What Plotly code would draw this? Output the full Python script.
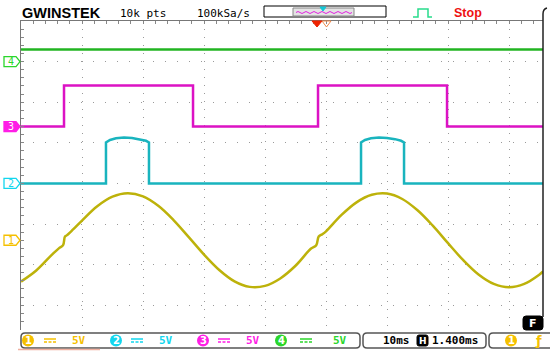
import plotly.graph_objects as go

# ---------------- data ----------------
time_range_ms = [-50.0, 35.57]      # 10 ms / div, centre of screen = 0
div_range = [-3.61, 4.0]            # vertical divisions visible
volts_per_div = 5.0
ch_offset_div = [-1.4, 0.0, 1.4, 3.0]   # CH1..CH4 ground markers

# CH1 (yellow, sine with small glitches at CH3 rising edges)
ch1_t = [-50, -47.5, -45, -43.8, -43.1, -42.8, -42.5, -41.5, -40, -37.5, -35, -32.5,
         -30, -27.5, -25, -22.5, -20, -17.5, -15, -12.5, -10, -7.5, -5, -2.5, -1.6,
         -1.2, -0.6, 0, 2.5, 5, 7.5, 10, 12.5, 15, 17.5, 20, 22.5, 25, 27.5, 30,
         32.5, 35, 35.57]
ch1_v = [-5.09, -3.72, -1.83, -1.0, -0.6, 0.45, 0.6, 1.3, 2.43, 4.19, 5.37, 5.79,
         5.40, 4.24, 2.49, 0.39, -1.76, -3.66, -5.06, -5.74, -5.62, -4.70, -3.14, -1.05,
         -0.6, 0.45, 0.75, 1.1, 3.09, 4.67, 5.60, 5.75, 5.08, 3.69, 1.80, -0.36,
         -2.46, -4.22, -5.38, -5.79, -5.38, -4.21, -3.85]

# CH2 (cyan pulses with slightly rounded tops)
ch2_t = [-50, -36.07, -36.07, -35.41, -34.43, -33.11, -31.8, -30.49, -29.51, -29.02, -29.02,
         5.74, 5.74, 6.39, 7.38, 8.69, 10.0, 11.31, 12.3, 12.79, 12.79, 35.57]
ch2_v = [0, 0, 5.05, 5.35, 5.55, 5.65, 5.6, 5.45, 5.25, 5.05, 0,
         0, 5.05, 5.35, 5.55, 5.65, 5.6, 5.45, 5.25, 5.05, 0, 0]

# CH3 (magenta square wave)
ch3_t = [-50, -42.95, -42.95, -21.8, -21.8, -1.31, -1.31, 19.84, 19.84, 35.57]
ch3_v = [0, 0, 5.05, 5.05, 0, 0, 5.05, 5.05, 0, 0]

# CH4 (green DC level)
ch4_t = [-50, 35.57]
ch4_v = [1.5, 1.5]

ch_labels = ["1", "2", "3", "4"]
ch_scales = ["5V", "5V", "5V", "5V"]
trace_colors = ["#bdb20a", "#19b4be", "#dc12c4", "#22b422"]
label_colors = ["#f5c000", "#12d6ee", "#ff1ee6", "#2bd62b"]
header_logo = "GWINSTEK"
header_pts = "10k pts"
header_rate = "100kSa/s"
header_state = "Stop"
timebase_text = "10ms"
hpos_text = "1.400ms"

# ---------------- geometry helpers ----------------
W, H = 550, 357
L, R, T, B = 21, 543, 21, 330


def X(p):
    return (p - L) / (R - L)


def Y(p):
    return (B - p) / (B - T)


def rrect(x0, y0, x1, y1, r):
    return (f"M {X(x0+r)},{Y(y0)} L {X(x1-r)},{Y(y0)} Q {X(x1)},{Y(y0)} {X(x1)},{Y(y0+r)} "
            f"L {X(x1)},{Y(y1-r)} Q {X(x1)},{Y(y1)} {X(x1-r)},{Y(y1)} "
            f"L {X(x0+r)},{Y(y1)} Q {X(x0)},{Y(y1)} {X(x0)},{Y(y1-r)} "
            f"L {X(x0)},{Y(y0+r)} Q {X(x0)},{Y(y0)} {X(x0+r)},{Y(y0)} Z")


fig = go.Figure()

series = [(ch1_t, ch1_v), (ch2_t, ch2_v), (ch3_t, ch3_v), (ch4_t, ch4_v)]
for i, (t, v) in enumerate(series):
    y = [ch_offset_div[i] + vi / volts_per_div for vi in v]
    fig.add_trace(go.Scatter(
        x=t, y=y, mode="lines", hoverinfo="skip", showlegend=False,
        line=dict(color=trace_colors[i], width=2.5,
                  shape="spline" if i == 0 else "linear", smoothing=1.0)))

shapes = []
ann = []

# channel ground markers on the left
for i in range(4):
    filled = (i == 2)
    shapes.append(dict(
        type="path", xref="paper", yref="y", ysizemode="pixel", yanchor=ch_offset_div[i],
        path=f"M {X(4)},-5 L {X(16)},-5 L {X(20)},0 L {X(16)},5 L {X(4)},5 Z",
        line=dict(color=label_colors[i], width=1.3),
        fillcolor=label_colors[i] if filled else "white", layer="above"))
    ann.append(dict(x=X(11), y=ch_offset_div[i], xref="paper", yref="y", text=ch_labels[i],
                    showarrow=False, xanchor="center", yanchor="middle",
                    font=dict(family="DejaVu Sans Mono", size=10,
                              color="white" if filled else label_colors[i])))

# header
ann.append(dict(x=X(20), y=Y(13), xref="paper", yref="paper", text=f"<b>{header_logo}</b>",
                showarrow=False, xanchor="left", yanchor="middle",
                font=dict(family="Liberation Sans", size=14.5, color="black")))
ann.append(dict(x=X(143), y=Y(13), xref="paper", yref="paper", text=header_pts,
                showarrow=False, xanchor="center", yanchor="middle",
                font=dict(family="DejaVu Sans Mono", size=11, color="black")))
ann.append(dict(x=X(223), y=Y(13), xref="paper", yref="paper", text=header_rate,
                showarrow=False, xanchor="center", yanchor="middle",
                font=dict(family="DejaVu Sans Mono", size=11, color="black")))
ann.append(dict(x=X(468), y=Y(13), xref="paper", yref="paper", text=f"<b>{header_state}</b>",
                showarrow=False, xanchor="center", yanchor="middle",
                font=dict(family="Liberation Sans", size=12.5, color="#ee1111")))

# memory window box
shapes.append(dict(type="rect", xref="paper", yref="paper", x0=X(264), x1=X(386), y0=Y(6), y1=Y(17),
                   line=dict(color="black", width=1), fillcolor="white"))
shapes.append(dict(type="rect", xref="paper", yref="paper", x0=X(293), x1=X(354), y0=Y(8), y1=Y(16),
                   line=dict(color="#888", width=1), fillcolor="#e4e4e4"))
wave = f"M {X(296)},{Y(12.5)}"
xw = 296
up = True
while xw < 351:
    wave += f" Q {X(xw+2)},{Y(10.5 if up else 14.5)} {X(xw+4)},{Y(12.5)}"
    xw += 4
    up = not up
shapes.append(dict(type="path", xref="paper", yref="paper", path=wave,
                   line=dict(color="#e020e0", width=1)))
shapes.append(dict(type="path", xref="paper", yref="paper",
                   path=f"M {X(320)},{Y(7)} L {X(326)},{Y(7)} L {X(323)},{Y(11)} Z",
                   line=dict(color="#10c8d8", width=1), fillcolor="#10c8d8"))
# trigger pulse icon
shapes.append(dict(type="path", xref="paper", yref="paper",
                   path=f"M {X(413)},{Y(17)} L {X(418)},{Y(17)} L {X(418)},{Y(9)} L {X(428)},{Y(9)} "
                        f"L {X(428)},{Y(17)} L {X(432)},{Y(17)}",
                   line=dict(color="#28dc8c", width=1.5)))
# trigger position markers
shapes.append(dict(type="path", xref="paper", yref="paper",
                   path=f"M {X(312)},{Y(21)} L {X(322)},{Y(21)} L {X(317)},{Y(27)} Z",
                   line=dict(color="#ee2200", width=1), fillcolor="#ee2200"))
shapes.append(dict(type="path", xref="paper", yref="paper",
                   path=f"M {X(322)},{Y(21)} L {X(331)},{Y(21)} L {X(326.5)},{Y(27)} Z",
                   line=dict(color="#f08848", width=1)))
# right border with curl
shapes.append(dict(type="path", xref="paper", yref="paper",
                   path=f"M {X(543)},{Y(317)} L {X(543)},{Y(14)} Q {X(543)},{Y(9)} {X(547)},{Y(8)}",
                   line=dict(color="#222", width=1.5)))

# bottom status bar
for (x0, x1) in [(21, 360), (363, 486), (489, 562)]:
    shapes.append(dict(type="path", xref="paper", yref="paper", path=rrect(x0, 333, x1, 348, 4),
                       line=dict(color="#555", width=1.5), fillcolor="white"))
shapes.append(dict(type="line", xref="paper", yref="paper", x0=X(18), x1=X(100), y0=Y(349.5), y1=Y(349.5),
                   line=dict(color="#f0b0a0", width=1.5)))

circ_x = [28, 116, 203, 281]
dc_x = [(44, 56), (131, 143), (218, 230), (300, 312)]
v_x = [79, 166, 253, 340]
for i in range(4):
    cx = circ_x[i]
    shapes.append(dict(type="circle", xref="paper", yref="paper", x0=X(cx-6), x1=X(cx+6),
                       y0=Y(334.5), y1=Y(346.5), line=dict(color=label_colors[i], width=0),
                       fillcolor=label_colors[i]))
    ann.append(dict(x=X(cx), y=Y(340.5), xref="paper", yref="paper", text=f"<b>{ch_labels[i]}</b>",
                    showarrow=False, xanchor="center", yanchor="middle",
                    font=dict(family="DejaVu Sans", size=10, color="white")))
    a, b = dc_x[i]
    shapes.append(dict(type="line", xref="paper", yref="paper", x0=X(a), x1=X(b), y0=Y(339), y1=Y(339),
                       line=dict(color=label_colors[i], width=1.5)))
    shapes.append(dict(type="line", xref="paper", yref="paper", x0=X(a), x1=X(b), y0=Y(342), y1=Y(342),
                       line=dict(color=label_colors[i], width=1.5, dash="3px,1.5px")))
    ann.append(dict(x=X(v_x[i]), y=Y(340.5), xref="paper", yref="paper", text=f"<b>{ch_scales[i]}</b>",
                    showarrow=False, xanchor="center", yanchor="middle",
                    font=dict(family="DejaVu Sans Mono", size=11, color=label_colors[i])))

ann.append(dict(x=X(396), y=Y(340.5), xref="paper", yref="paper", text=f"<b>{timebase_text}</b>",
                showarrow=False, xanchor="center", yanchor="middle",
                font=dict(family="DejaVu Sans Mono", size=11, color="black")))
shapes.append(dict(type="path", xref="paper", yref="paper", path=rrect(417, 335, 428, 346, 2),
                   line=dict(color="black", width=1), fillcolor="black"))
ann.append(dict(x=X(422.5), y=Y(340.5), xref="paper", yref="paper", text="<b>H</b>",
                showarrow=False, xanchor="center", yanchor="middle",
                font=dict(family="DejaVu Sans", size=9, color="white")))
ann.append(dict(x=X(455), y=Y(340.5), xref="paper", yref="paper", text=f"<b>{hpos_text}</b>",
                showarrow=False, xanchor="center", yanchor="middle",
                font=dict(family="DejaVu Sans Mono", size=11, color="black")))
shapes.append(dict(type="circle", xref="paper", yref="paper", x0=X(505), x1=X(517),
                   y0=Y(334.5), y1=Y(346.5), line=dict(width=0), fillcolor=label_colors[0]))
ann.append(dict(x=X(511), y=Y(340.5), xref="paper", yref="paper", text="<b>1</b>",
                showarrow=False, xanchor="center", yanchor="middle",
                font=dict(family="DejaVu Sans", size=10, color="white")))
ann.append(dict(x=X(538), y=Y(340.5), xref="paper", yref="paper", text="<b>ƒ</b>",
                showarrow=False, xanchor="center", yanchor="middle",
                font=dict(family="DejaVu Sans", size=13, color=label_colors[0])))
# F button
shapes.append(dict(type="path", xref="paper", yref="paper", path=rrect(523, 316, 543, 330, 3),
                   line=dict(color="black", width=1), fillcolor="black"))
ann.append(dict(x=X(533), y=Y(323), xref="paper", yref="paper", text="<b>F</b>",
                showarrow=False, xanchor="center", yanchor="middle",
                font=dict(family="DejaVu Sans", size=11, color="white")))

fig.update_layout(
    width=W, height=H, margin=dict(l=L, r=W - R, t=T, b=H - B, pad=0),
    paper_bgcolor="white", plot_bgcolor="white", showlegend=False,
    shapes=shapes, annotations=ann,
    xaxis=dict(range=time_range_ms, side="top", showticklabels=False, zeroline=False,
               showgrid=True, gridcolor="#9a9a9a", gridwidth=1, griddash="1px,7px",
               tick0=-50, dtick=10, ticks="inside", ticklen=3, tickcolor="#888",
               minor=dict(dtick=2, ticks="inside", ticklen=3, tickcolor="#888", showgrid=False),
               showline=True, linecolor="#777", linewidth=1, fixedrange=True),
    yaxis=dict(range=div_range, showticklabels=False, zeroline=False,
               showgrid=True, gridcolor="#9a9a9a", gridwidth=1, griddash="1px,11px",
               tick0=0, dtick=1, ticks="inside", ticklen=3, tickcolor="#888",
               minor=dict(dtick=0.2, ticks="inside", ticklen=3, tickcolor="#888", showgrid=False),
               showline=True, linecolor="#777", linewidth=1, fixedrange=True),
)

fig.write_html("out.html", config={"displayModeBar": False},
               post_script="document.body.style.margin='0';document.body.style.overflow='hidden';")
